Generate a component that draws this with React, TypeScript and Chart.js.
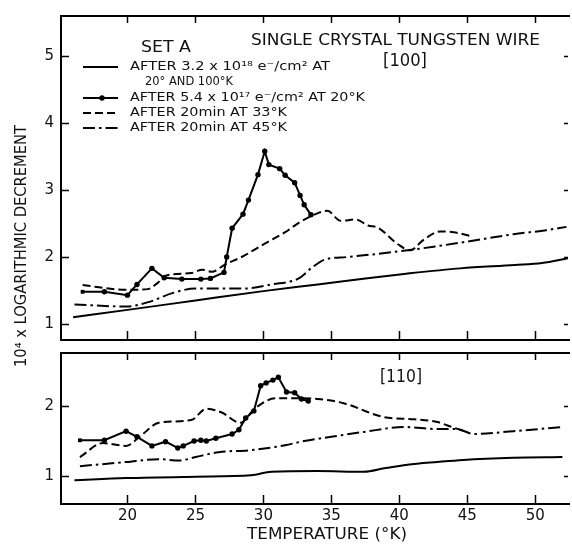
import React, { useEffect, useRef } from 'react';
import { Chart, registerables } from 'chart.js';
Chart.register(...registerables);

// ---- axes ----
const X_MIN = 15.11;
const X_MAX = 52.41;
const xTickValues = [20, 25, 30, 35, 40, 45, 50];
const topYTickValues = [1, 2, 3, 4, 5];
const botYTickValues = [1, 2];
const TOP_Y_MIN = 0.76;
const TOP_Y_MAX = 5.6;
const BOT_Y_MIN = 0.6;
const BOT_Y_MAX = 2.757;

// ---- [100] panel ----
const t100_irr18T = [16, 20, 25, 30, 34, 37.5, 40.5, 44.5, 48.5, 50.5, 52.4];
const t100_irr18V = [1.10, 1.21, 1.35, 1.49, 1.59, 1.68, 1.75, 1.83, 1.88, 1.91, 1.98];

const t100_irr17T = [16.7, 18.3, 20.0, 20.7, 21.8, 22.7, 24.0, 25.4, 26.1, 27.1, 27.3, 27.7, 28.5, 28.9, 29.6, 30.1, 30.4, 31.2, 31.6, 32.3, 32.7, 33.0, 33.5];
const t100_irr17V = [1.48, 1.48, 1.43, 1.59, 1.83, 1.69, 1.67, 1.67, 1.68, 1.77, 2.0, 2.43, 2.64, 2.85, 3.23, 3.58, 3.38, 3.32, 3.22, 3.11, 2.92, 2.78, 2.63];

const t100_33KT = [16.7, 19.9, 21.5, 22.2, 22.8, 24.7, 25.5, 26.2, 27.2, 28.4, 30.1, 31.6, 32.6, 33.5, 34.7, 35.7, 36.8, 37.7, 38.4, 39.9, 40.8, 41.8, 43.0, 44.0, 45.3];
const t100_33KV = [1.58, 1.51, 1.52, 1.61, 1.72, 1.76, 1.81, 1.78, 1.89, 2.0, 2.20, 2.37, 2.51, 2.61, 2.69, 2.54, 2.56, 2.47, 2.44, 2.19, 2.10, 2.26, 2.38, 2.37, 2.31];

const t100_45KT = [16.1, 19.9, 21.6, 23.3, 25.0, 26.7, 28.7, 30.6, 32.6, 33.5, 34.5, 36.2, 40.6, 44.7, 48.4, 50.8, 52.3];
const t100_45KV = [1.29, 1.26, 1.33, 1.46, 1.53, 1.53, 1.53, 1.59, 1.68, 1.83, 1.96, 2.0, 2.10, 2.22, 2.34, 2.40, 2.45];

// ---- [110] panel ----
const t110_irr18T = [16.1, 19.9, 25, 29.1, 30.6, 34, 37.4, 38.9, 40.6, 42.8, 44.7, 48.4, 52.0];
const t110_irr18V = [0.94, 0.97, 0.99, 1.01, 1.06, 1.07, 1.06, 1.11, 1.16, 1.20, 1.23, 1.26, 1.27];

const t110_irr17T = [16.5, 18.3, 19.9, 20.7, 21.8, 22.8, 23.7, 24.1, 24.9, 25.4, 25.8, 26.5, 27.7, 28.2, 28.7, 29.3, 29.8, 30.2, 30.7, 31.1, 31.7, 32.3, 32.8, 33.3];
const t110_irr17V = [1.51, 1.51, 1.64, 1.56, 1.43, 1.49, 1.40, 1.43, 1.50, 1.51, 1.50, 1.54, 1.60, 1.66, 1.83, 1.93, 2.29, 2.33, 2.37, 2.41, 2.20, 2.19, 2.10, 2.07];

const t110_33KT = [16.5, 18.2, 19.9, 20.9, 22.3, 24.7, 25.8, 26.9, 28.3, 29.4, 30.9, 32.6, 34.0, 35.9, 38.9, 41.1, 42.8, 44.0, 45.0];
const t110_33KV = [1.27, 1.47, 1.43, 1.56, 1.76, 1.80, 1.96, 1.91, 1.76, 1.97, 2.11, 2.11, 2.10, 2.04, 1.84, 1.81, 1.77, 1.69, 1.63];

const t110_45KT = [16.5, 19.9, 22.3, 23.8, 25.0, 26.7, 29.1, 31.6, 33.0, 35.0, 37.4, 40.4, 42.8, 44.2, 45.5, 48.4, 52.0];
const t110_45KV = [1.14, 1.20, 1.24, 1.22, 1.27, 1.34, 1.37, 1.44, 1.50, 1.56, 1.63, 1.70, 1.67, 1.67, 1.60, 1.64, 1.70];

// ---- text ----
const FONT = '"DejaVu Sans", sans-serif';
const titleText = 'SINGLE CRYSTAL TUNGSTEN WIRE';
const setText = 'SET A';
const panelTop = '[100]';
const panelBot = '[110]';
const legendRows = [
  'AFTER 3.2 x 10¹⁸ e⁻/cm² AT',
  '20° AND 100°K',
  'AFTER 5.4 x 10¹⁷ e⁻/cm² AT 20°K',
  'AFTER 20min AT 33°K',
  'AFTER 20min AT 45°K',
];
const xTitle = 'TEMPERATURE (°K)';
const yTitle = '10⁴ x LOGARITHMIC DECREMENT';

const DASH = [8, 4];
const DASHDOT = [12, 4, 2.5, 4];

function fitText(ctx: CanvasRenderingContext2D, text: string, x: number, y: number, width: number, size: number, align: 'left' | 'center' = 'left', rot = 0) {
  ctx.save();
  ctx.font = `${size}px ${FONT}`;
  ctx.fillStyle = '#111';
  ctx.textBaseline = 'middle';
  ctx.textAlign = 'left';
  const w = ctx.measureText(text).width;
  ctx.translate(x, y);
  if (rot) ctx.rotate(rot);
  ctx.scale(width / w, 1);
  ctx.fillText(text, align === 'center' ? -w / 2 : 0, 0);
  ctx.restore();
}

function makeDataset(T: number[], V: number[], kind: 'solid' | 'dots' | 'dash' | 'dashdot') {
  return {
    data: T.map((t, i) => ({ x: t, y: V[i] })),
    borderColor: '#000',
    borderWidth: 2,
    borderDash: kind === 'dash' ? DASH : kind === 'dashdot' ? DASHDOT : [],
    fill: false,
    pointRadius: kind === 'dots' ? 2.7 : 0,
    pointBackgroundColor: '#000',
    pointBorderColor: '#000',
    pointBorderWidth: 0,
    pointStyle: (c: any) => (c.dataIndex === 0 ? 'rect' : 'circle'),
    tension: 0,
    cubicInterpolationMode: kind === 'dots' ? 'default' : 'monotone',
  };
}

function makeDecor(yTicks: number[], extra: (ctx: CanvasRenderingContext2D, chart: any) => void) {
  return {
    id: 'decor',
    afterDraw(chart: any) {
      const { ctx, chartArea: a, scales } = chart;
      ctx.save();
      ctx.strokeStyle = '#000';
      ctx.lineWidth = 2;
      ctx.beginPath();
      ctx.moveTo(a.right + 2, a.top);
      ctx.lineTo(a.left, a.top);
      ctx.lineTo(a.left, a.bottom);
      ctx.lineTo(a.right + 2, a.bottom);
      ctx.stroke();
      ctx.lineWidth = 1.5;
      ctx.beginPath();
      for (const t of xTickValues) {
        const px = Math.round(scales.x.getPixelForValue(t)) + 0.5;
        ctx.moveTo(px, a.bottom);
        ctx.lineTo(px, a.bottom - 9);
        ctx.moveTo(px, a.top);
        ctx.lineTo(px, a.top + 7);
      }
      for (const t of yTicks) {
        const py = Math.round(scales.y.getPixelForValue(t)) + 0.5;
        ctx.moveTo(a.left, py);
        ctx.lineTo(a.left + 8, py);
        ctx.moveTo(a.right, py);
        ctx.lineTo(a.right - 4, py);
      }
      ctx.stroke();
      ctx.restore();
      extra(ctx, chart);
    },
  };
}

function makeOptions(yMin: number, yMax: number, yTicks: number[], padTop: number, padBottom: number, xHeight: number, showX: boolean) {
  return {
    responsive: false,
    maintainAspectRatio: false,
    animation: false as const,
    layout: { padding: { top: padTop, bottom: padBottom, left: 0, right: 0 } },
    plugins: { legend: { display: false }, tooltip: { enabled: false } },
    scales: {
      x: {
        type: 'linear' as const,
        min: X_MIN,
        max: X_MAX,
        grid: { display: false, drawTicks: false },
        border: { display: false },
        ticks: { display: showX, color: '#111', font: { family: FONT, size: 15 }, padding: 3, autoSkip: false, maxRotation: 0 },
        afterBuildTicks: (s: any) => { s.ticks = xTickValues.map((v) => ({ value: v })); },
        afterFit: (s: any) => { s.height = xHeight; },
      },
      y: {
        type: 'linear' as const,
        min: yMin,
        max: yMax,
        grid: { display: false, drawTicks: false },
        border: { display: false },
        ticks: { color: '#111', font: { family: FONT, size: 15 }, padding: 7 },
        afterBuildTicks: (s: any) => { s.ticks = yTicks.map((v) => ({ value: v })); },
        afterFit: (s: any) => { s.width = 61; },
      },
    },
  };
}

export default function App() {
  const topRef = useRef<HTMLCanvasElement>(null);
  const botRef = useRef<HTMLCanvasElement>(null);

  useEffect(() => {
    const topDecor = makeDecor(topYTickValues, (ctx) => {
      fitText(ctx, titleText, 251, 41, 289, 16);
      fitText(ctx, setText, 141, 48, 50, 16);
      fitText(ctx, panelTop, 383, 61, 44, 18);
      const rowsY = [67, 82, 98, 113, 128];
      const rowsX = [130, 145, 130, 130, 130];
      const rowsW = [200, 88, 235, 157, 157];
      legendRows.forEach((r, i) => fitText(ctx, r, rowsX[i], rowsY[i], rowsW[i], 13));
      ctx.save();
      ctx.strokeStyle = '#000';
      ctx.lineWidth = 2;
      const sample = (y: number, dash: number[]) => {
        ctx.setLineDash(dash);
        ctx.beginPath();
        ctx.moveTo(83, y);
        ctx.lineTo(118, y);
        ctx.stroke();
      };
      sample(67, []);
      sample(98, []);
      sample(113, DASH);
      sample(128, DASHDOT);
      ctx.setLineDash([]);
      ctx.fillStyle = '#000';
      ctx.beginPath();
      ctx.arc(102, 98, 2.7, 0, Math.PI * 2);
      ctx.fill();
      ctx.restore();
    });
    const botDecor = makeDecor(botYTickValues, (ctx) => {
      fitText(ctx, panelBot, 380, 377, 42, 18);
      fitText(ctx, xTitle, 327, 535, 160, 15, 'center');
      fitText(ctx, yTitle, 22, 246, 242, 15, 'center', -Math.PI / 2);
    });

    const top = new Chart(topRef.current!, {
      type: 'line',
      data: {
        datasets: [
          makeDataset(t100_irr18T, t100_irr18V, 'solid'),
          makeDataset(t100_33KT, t100_33KV, 'dash'),
          makeDataset(t100_45KT, t100_45KV, 'dashdot'),
          makeDataset(t100_irr17T, t100_irr17V, 'dots'),
        ] as any,
      },
      options: makeOptions(TOP_Y_MIN, TOP_Y_MAX, topYTickValues, 9, 544 - 340, 0, false) as any,
      plugins: [topDecor],
    });
    const bot = new Chart(botRef.current!, {
      type: 'line',
      data: {
        datasets: [
          makeDataset(t110_irr18T, t110_irr18V, 'solid'),
          makeDataset(t110_33KT, t110_33KV, 'dash'),
          makeDataset(t110_45KT, t110_45KV, 'dashdot'),
          makeDataset(t110_irr17T, t110_irr17V, 'dots'),
        ] as any,
      },
      options: makeOptions(BOT_Y_MIN, BOT_Y_MAX, botYTickValues, 353, 0, 40, true) as any,
      plugins: [botDecor],
    });
    return () => {
      top.destroy();
      bot.destroy();
    };
  }, []);

  const cs: React.CSSProperties = { position: 'absolute', left: 0, top: 0, width: 572, height: 544 };
  return (
    <div style={{ position: 'absolute', left: 0, top: 0, width: 572, height: 544, background: '#fff' }}>
      <canvas ref={topRef} width={572} height={544} style={cs} />
      <canvas ref={botRef} width={572} height={544} style={cs} />
    </div>
  );
}
